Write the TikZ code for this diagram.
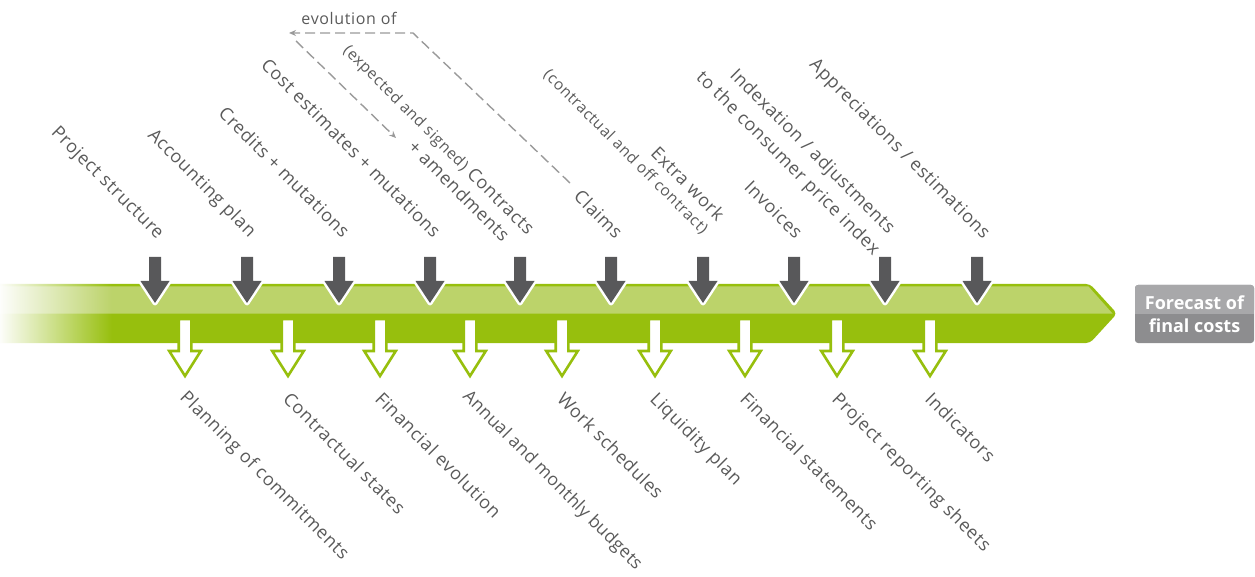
\documentclass[tikz,border=0pt]{standalone}
\usepackage{fontspec}
\setmainfont{Open Sans}
\newfontfamily\lblfont[LetterSpace=4]{Open Sans}
\newfontfamily\lblfonttight[LetterSpace=2]{Open Sans}
\usetikzlibrary{fadings,arrows.meta}
\definecolor{darkarr}{HTML}{58585A}
\definecolor{bargreen}{HTML}{97BF0D}
\definecolor{barlight}{HTML}{BCD36A}
\definecolor{labelgray}{HTML}{5A5A5A}
\definecolor{dashgray}{HTML}{9A9A9A}
\definecolor{boxlight}{HTML}{A8A8AA}
\definecolor{boxdark}{HTML}{8D8D8F}
\tikzfading[name=fadeR, left color=transparent!0, right color=transparent!100]
\newcommand{\smallsz}{\fontsize{15.5}{18}\selectfont}
\begin{document}
\begin{tikzpicture}[x=1pt,y=-1pt,
  lbl/.style={rotate=-45, inner sep=0pt, text=labelgray, font=\lblfont\fontsize{18}{21}\selectfont},
  toplbl/.style={lbl, anchor=base east},
  botlbl/.style={lbl, anchor=base west},
  smalltxt/.style={font=\lblfont\smallsz},
  inarrow/.style={fill=darkarr, preaction={draw=white, line width=5pt, line join=round}},
  outarrow/.style={fill=white, draw=bargreen, line width=2.6pt, line join=miter},
  evodash/.style={draw=dashgray, line width=1.4pt, dash pattern=on 10pt off 5pt},
  evotip/.style={-{Stealth[length=7pt,width=6pt]}}
]
\useasboundingbox (0,0) rectangle (1255,577);

% main bar
\fill[bargreen, rounded corners=4pt] (-6,284) -- (1090,284) -- (1117,313.5) -- (1090,343) -- (-6,343) -- cycle;
\fill[barlight] (-6,286.5) -- (1088.5,286.5) -- (1112.5,313.5) -- (-6,313.5) -- cycle;
\fill[white, path fading=fadeR] (-2,280) rectangle (112,347);

% incoming dark arrows
\foreach \x in {155,247,339,430,520,611,703,794,885,977}{
  \path[inarrow] (\x-6,257) -- (\x+6,257) -- (\x+6,281) -- (\x+14.5,281) -- (\x,303) -- (\x-14.5,281) -- (\x-6,281) -- cycle;
}
% outgoing green arrows
\foreach \x in {185,288,380,470,562,655,745,837,930}{
  \path[outarrow] (\x-6.3,319) -- (\x+6.3,319) -- (\x+6.3,351) -- (\x+15.8,351) -- (\x,376) -- (\x-15.8,351) -- (\x-6.3,351) -- cycle;
}

% result box
\fill[boxdark, rounded corners=3pt] (1135,285) rectangle (1254,343);
\fill[boxlight, rounded corners=3pt] (1135,285) rectangle (1254,313);
\fill[boxlight] (1135,305) rectangle (1254,313.5);
\node[font=\fontsize{18}{23}\selectfont\bfseries, text=white, align=center, inner sep=0pt] (fc) at (1194.5,314) {Forecast of\\final costs};

% top labels
\node[toplbl] (t1) at (157,240) {Project structure};
\node[toplbl] (t2) at (249,238) {Accounting plan};
\node[toplbl] (t3) at (342,239) {Credits + mutations};
\node[toplbl] (t4) at (433,239) {Cost estimates + mutations};
\node[toplbl] (t5a) at (527,236) {{\smallsz (expected and signed)} Contracts};
\node[toplbl] (t5b) at (502,243) {+ amendments};
\node[toplbl] (t6) at (615,240) {Claims};
\node[toplbl] (t7a) at (717,222) {Extra work};
\node[toplbl, smalltxt] (t7b) at (702,235) {(contractual and off contract)};
\node[toplbl] (t8) at (795,240) {Invoices};
\node[toplbl] (t9a) at (888,235) {Indexation / adjustments};
\node[toplbl] (t9b) at (873,256) {to the consumer price index};
\node[toplbl] (t10) at (983,240) {Appreciations / estimations};

% bottom labels
\node[botlbl] (b1) at (179,398) {Planning of commitments};
\node[botlbl] (b2) at (282,400) {Contractual states};
\node[botlbl] (b3) at (374,400) {Financial evolution};
\node[botlbl, font=\lblfonttight\fontsize{17.6}{21}\selectfont] (b4) at (462,397) {Annual and monthly budgets};
\node[botlbl] (b5) at (556,400) {Work schedules};
\node[botlbl] (b6) at (649,400) {Liquidity plan};
\node[botlbl] (b7) at (739,400) {Financial statements};
\node[botlbl] (b8) at (831,400) {Project reporting sheets};
\node[botlbl] (b9) at (924,400) {Indicators};

% evolution of
\node[inner sep=0pt, text=labelgray, font=\lblfont\fontsize{16}{18}\selectfont, anchor=base] (evo) at (349,25) {evolution of};
\coordinate (c1) at (570,183);
\coordinate (c2) at (413,33);
\coordinate (c3) at (289,33);
\coordinate (c4) at (296,41);
\coordinate (c5) at (396,138);
\draw[evodash, evotip] (c1) -- (c2) -- (c3);
\draw[evodash, evotip] (c4) -- (c5);
\end{tikzpicture}
\end{document}
